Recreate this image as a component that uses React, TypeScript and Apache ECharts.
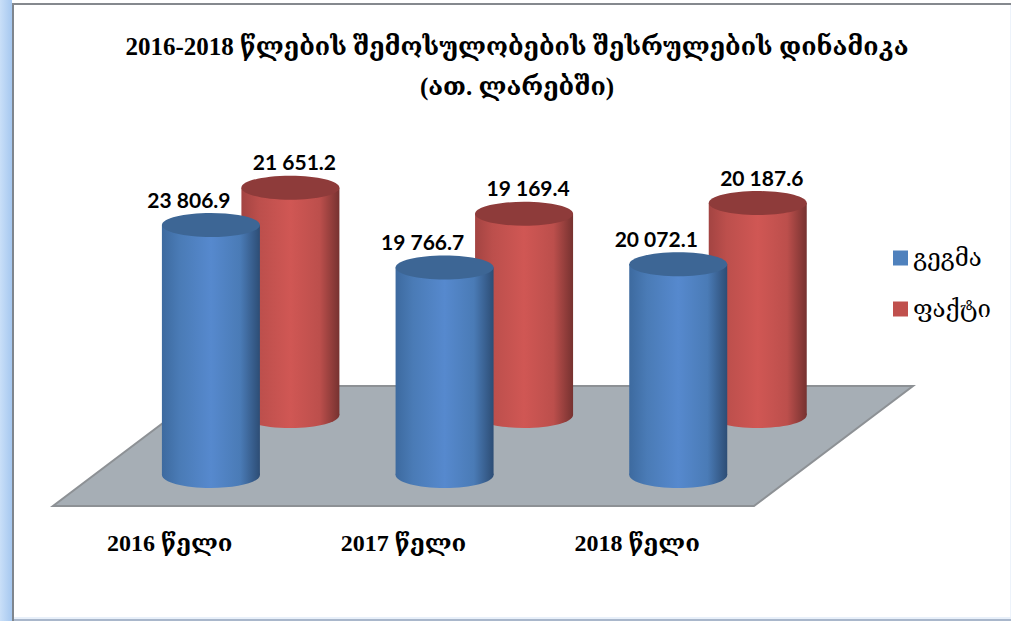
import React, { useEffect, useRef } from "react";
import * as echarts from "echarts";

const categories = ["2016 წელი", "2017 წელი", "2018 წელი"];
const planValues = [23806.9, 19766.7, 20072.1];
const factValues = [21651.2, 19169.4, 20187.6];
const planName = "გეგმა";
const factName = "ფაქტი";
const titleLines = "2016-2018 წლების შემოსულობების შესრულების დინამიკა\n(ათ. ლარებში)";

const SERIF = "'Liberation Serif','DejaVu Serif',serif";
const DEPTH_RATIO = 159 / 120;
const FLOOR_DEPTH = 120;
const RX = 49;
const RY = 12;

const fmt = (v: number) => {
  const [i, d] = v.toFixed(1).split(".");
  return i.replace(/\B(?=(\d{3})+$)/g, " ") + "." + d;
};

const grad = (stops: string[]) =>
  new echarts.graphic.LinearGradient(0, 0, 1, 0, [
    { offset: 0, color: stops[0] },
    { offset: 0.18, color: stops[1] },
    { offset: 0.5, color: stops[2] },
    { offset: 0.8, color: stops[1] },
    { offset: 1, color: stops[3] },
  ]);

function cylinder(
  depth: number,
  stops: string[],
  topColor: string,
  labelDx: number
) {
  return (params: any, api: any) => {
    const base = api.coord([api.value(0), 0]);
    const top = api.coord([api.value(0), api.value(1)]);
    const cx = base[0] + depth * DEPTH_RATIO;
    const by = base[1] - depth;
    const ty = top[1] - depth;
    const fill = grad(stops);
    return {
      type: "group",
      children: [
        { type: "ellipse", shape: { cx, cy: by, rx: RX, ry: RY + 1 }, style: { fill } },
        { type: "rect", shape: { x: cx - RX, y: ty, width: RX * 2, height: by - ty }, style: { fill } },
        { type: "ellipse", shape: { cx, cy: ty, rx: RX, ry: RY }, style: { fill: topColor } },
        {
          type: "text",
          style: {
            text: fmt(api.value(1)),
            x: cx + labelDx,
            y: ty - 26,
            align: "center",
            verticalAlign: "middle",
            fontFamily: "Lato",
            fontWeight: "bold",
            fontSize: 21,
            fill: "#000",
          },
        },
      ],
    };
  };
}

function floor(params: any, api: any) {
  const c = params.coordSys;
  const dx = FLOOR_DEPTH * DEPTH_RATIO;
  const b = c.y + c.height;
  return {
    type: "polygon",
    shape: {
      points: [
        [c.x, b],
        [c.x + c.width, b],
        [c.x + c.width + dx, b - FLOOR_DEPTH],
        [c.x + dx, b - FLOOR_DEPTH],
      ],
    },
    style: { fill: "#A6AEB5", stroke: "#8D9195", lineWidth: 2 },
  };
}

export default function App() {
  const ref = useRef<HTMLDivElement>(null);
  useEffect(() => {
    const chart = echarts.init(ref.current!, null, { renderer: "svg" });
    chart.setOption({
      animation: false,
      backgroundColor: "#fff",
      title: {
        text: titleLines,
        left: 512,
        top: 21,
        padding: 5,
        textAlign: "center",
        textStyle: {
          fontFamily: SERIF,
          fontSize: 25,
          fontWeight: "bold",
          color: "#000",
          lineHeight: 40,
        },
      },
      legend: {
        orient: "vertical",
        left: 893,
        top: 246,
        padding: 0,
        itemWidth: 15,
        itemHeight: 15,
        itemGap: 27,
        icon: "rect",
        data: [planName, factName],
        textStyle: { fontFamily: SERIF, fontSize: 24, color: "#000" },
      },
      grid: { left: 53, width: 701, top: 107, height: 399 },
      xAxis: {
        type: "category",
        data: categories,
        axisLine: { show: false },
        axisTick: { show: false },
        axisLabel: {
          margin: 25,
          color: "#000",
          fontFamily: SERIF,
          fontSize: 24,
          fontWeight: "bold",
        },
      },
      yAxis: { type: "value", min: 0, max: 38000, show: false },
      graphic: [
        {
          type: "rect",
          shape: { x: 0, y: 0, width: 12, height: 621 },
          style: {
            fill: new echarts.graphic.LinearGradient(0, 0, 1, 0, [
              { offset: 0, color: "#C9DFF8" },
              { offset: 1, color: "#A6C8F0" },
            ]),
          },
        },
        { type: "rect", shape: { x: 12, y: 3, width: 2, height: 618 }, style: { fill: "#7F868E" } },
        { type: "rect", shape: { x: 12, y: 3, width: 999, height: 2 }, style: { fill: "#85898E" } },
        { type: "rect", shape: { x: 14, y: 619, width: 997, height: 2 }, style: { fill: "#A9B7CB" } },
        { type: "rect", shape: { x: 14, y: 617, width: 997, height: 2 }, style: { fill: "#E8F0FA" } },
        { type: "rect", shape: { x: 1010, y: 5, width: 1, height: 612 }, style: { fill: "#EDF3FB" } },
      ],
      series: [
        {
          type: "custom",
          silent: true,
          z: 1,
          renderItem: floor,
          data: [[0, 0]],
          encode: { x: 0, y: 1 },
        },
        {
          name: factName,
          type: "custom",
          z: 2,
          itemStyle: { color: "#C0504D" },
          renderItem: cylinder(91, ["#A34442", "#BC4F4C", "#D05754", "#763230"], "#8E3B3A", 4),
          data: factValues.map((v, i) => [i, v]),
          encode: { x: 0, y: 1 },
        },
        {
          name: planName,
          type: "custom",
          z: 3,
          itemStyle: { color: "#4F81BD" },
          renderItem: cylinder(31, ["#3D6A9F", "#4A7BB6", "#5689CE", "#2D4D75"], "#3D6695", -22),
          data: planValues.map((v, i) => [i, v]),
          encode: { x: 0, y: 1 },
        },
      ],
    });
    return () => chart.dispose();
  }, []);
  return (
    <div
      ref={ref}
      style={{ position: "absolute", left: 0, top: 0, width: 1011, height: 621 }}
    />
  );
}
